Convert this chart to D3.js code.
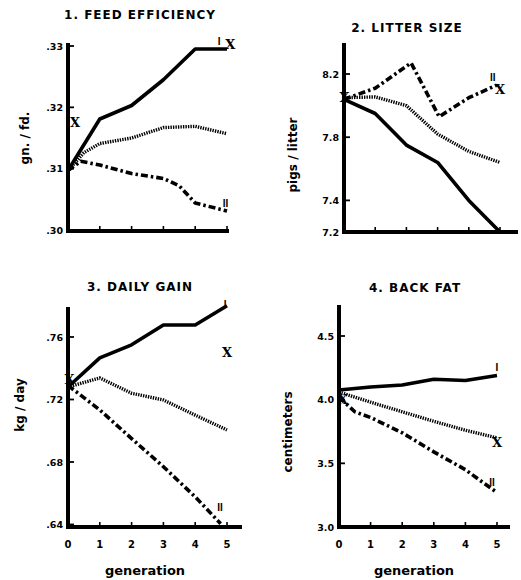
<!DOCTYPE html>
<html><head><meta charset="utf-8">
<script src="https://cdn.jsdelivr.net/npm/d3@7"></script>
<style>body{margin:0;background:#fff}</style>
</head><body><svg id="c" width="521" height="580"></svg>
<script>
// ---------- DATA ----------
const xTickValues = [0,1,2,3,4,5];
const xTickLabels = ["0","1","2","3","4","5"];

// Panel 1: Feed efficiency (gn./fd.)
const feedTicks = [0.30,0.31,0.32,0.33];
const feedTickLabels = [".30",".31",".32",".33"];
const feedSolidGen = [0,1,2,3,4,5];
const feedSolidVal = [0.3097,0.3181,0.3203,0.3245,0.3295,0.3295];
const feedDotGen = [0,0.5,1,2,3,4,5];
const feedDotVal = [0.3097,0.3126,0.3141,0.3150,0.3167,0.3169,0.3157];
const feedDashGen = [0,0.4,1,2,3,3.5,4,5];
const feedDashVal = [0.3097,0.3112,0.3106,0.3092,0.3084,0.3072,0.3044,0.3031];

// Panel 2: Litter size (pigs/litter)
const litterTicks = [7.2,7.4,7.8,8.2];
const litterTickLabels = ["7.2","7.4","7.8","8.2"];
const litterSolidGen = [0,1,2,3,4,5];
const litterSolidVal = [8.04,7.95,7.75,7.64,7.40,7.20];
const litterDotGen = [0,1,2,3,4,5];
const litterDotVal = [8.05,8.055,8.00,7.82,7.71,7.64];
const litterDashGen = [0,1,2.15,3.05,4,4.9];
const litterDashVal = [8.04,8.11,8.27,7.93,8.05,8.13];

// Panel 3: Daily gain (kg/day)
const gainTicks = [0.64,0.68,0.72,0.76];
const gainTickLabels = [".64",".68",".72",".76"];
const gainSolidGen = [0,1,2,3,4,5];
const gainSolidVal = [0.728,0.7466,0.755,0.7677,0.7677,0.780];
const gainDotGen = [0,1,2,3,4,5];
const gainDotVal = [0.728,0.7338,0.724,0.7197,0.710,0.7005];
const gainDashGen = [0,1,2,3,4,4.8];
const gainDashVal = [0.729,0.7133,0.695,0.677,0.6577,0.6405];

// Panel 4: Back fat (centimeters)
const fatTicks = [3.0,3.5,4.0,4.5];
const fatTickLabels = ["3.0","3.5","4.0","4.5"];
const fatSolidGen = [0,1,2,3,4,5];
const fatSolidVal = [4.076,4.10,4.115,4.16,4.15,4.19];
const fatDotGen = [0,1,2,3,4,5];
const fatDotVal = [4.06,3.98,3.905,3.83,3.76,3.70];
const fatDashGen = [0,0.5,1,2,3,4,5];
const fatDashVal = [4.02,3.905,3.86,3.74,3.59,3.45,3.27];

// Line labels (text, generation, value)
const feedLabelText = ["I","X","X","II"];
const feedLabelGen = [4.75,5.1,0.22,4.95];
const feedLabelVal = [0.3308,0.3303,0.3175,0.3044];
const litterLabelText = ["X","II","X"];
const litterLabelGen = [0.02,4.77,5.0];
const litterLabelVal = [8.05,8.18,8.10];
const gainLabelText = ["X","I","X","II"];
const gainLabelGen = [0.05,4.94,5.0,4.78];
const gainLabelVal = [0.733,0.781,0.7498,0.6506];
const fatLabelText = ["X","I","X","II"];
const fatLabelGen = [0.12,5.0,5.0,4.84];
const fatLabelVal = [4.0,4.25,3.66,3.35];

const titles = ["1. FEED EFFICIENCY","2. LITTER SIZE","3. DAILY GAIN","4. BACK FAT"];
const yLabels = ["gn. / fd.","pigs / litter","kg / day","centimeters"];
const xLabel = "generation";

// ---------- LAYOUT ----------
const panels = [
  {title:titles[0], tx:140, ty:15, yl:yLabels[0], ylx:25, yly:138,
   x0:68, x5:227, xEnd:229, yTopPx:43, yBotPx:231,
   yDom:[0.30,0.33], yRng:[230,46], ticks:feedTicks, tickLabels:feedTickLabels,
   series:[[feedSolidGen,feedSolidVal,"solid"],[feedDotGen,feedDotVal,"dot"],[feedDashGen,feedDashVal,"dash"]],
   labels:[feedLabelText,feedLabelGen,feedLabelVal], xLabels:false},
  {title:titles[1], tx:407, ty:28, yl:yLabels[1], ylx:293, yly:155,
   x0:344, x5:500, xEnd:518, yTopPx:43, yBotPx:232,
   yDom:[7.2,8.2], yRng:[232,74], ticks:litterTicks, tickLabels:litterTickLabels,
   series:[[litterSolidGen,litterSolidVal,"solid"],[litterDotGen,litterDotVal,"dot"],[litterDashGen,litterDashVal,"dash"]],
   labels:[litterLabelText,litterLabelGen,litterLabelVal], xLabels:false},
  {title:titles[2], tx:140, ty:287, yl:yLabels[2], ylx:20, yly:405,
   x0:68, x5:227, xEnd:242, yTopPx:307, yBotPx:527,
   yDom:[0.64,0.76], yRng:[524.5,337], ticks:gainTicks, tickLabels:gainTickLabels,
   series:[[gainSolidGen,gainSolidVal,"solid"],[gainDotGen,gainDotVal,"dot"],[gainDashGen,gainDashVal,"dash"]],
   labels:[gainLabelText,gainLabelGen,gainLabelVal], xLabels:true, glx:145},
  {title:titles[3], tx:415, ty:288, yl:yLabels[3], ylx:288, yly:432,
   x0:339, x5:497, xEnd:510, yTopPx:305, yBotPx:527,
   yDom:[3.0,4.5], yRng:[527,336], ticks:fatTicks, tickLabels:fatTickLabels,
   series:[[fatSolidGen,fatSolidVal,"solid"],[fatDotGen,fatDotVal,"dot"],[fatDashGen,fatDashVal,"dash"]],
   labels:[fatLabelText,fatLabelGen,fatLabelVal], xLabels:true, glx:414}
];

const svg = d3.select("#c");
const FONT = "'DejaVu Sans', sans-serif";
const styles = {
  solid:{w:3.6, dash:null},
  dot:{w:3.4, dash:"1.4,1.1"},
  dash:{w:3.6, dash:"7,3,2.5,3"}
};

panels.forEach(p => {
  const g = svg.append("g");
  const x = d3.scaleLinear().domain([0,5]).range([p.x0,p.x5]);
  const y = d3.scaleLinear().domain(p.yDom).range(p.yRng);

  g.append("text").attr("x",p.tx).attr("y",p.ty).attr("text-anchor","middle")
    .attr("dominant-baseline","central").attr("font-family",FONT).attr("font-weight","bold")
    .attr("font-size",12).attr("letter-spacing",1).attr("fill","#000").text(p.title);

  g.append("text").attr("transform",`translate(${p.ylx},${p.yly}) rotate(-90)`)
    .attr("text-anchor","middle").attr("dominant-baseline","central")
    .attr("font-family",FONT).attr("font-weight","bold").attr("font-size",12).attr("fill","#000").text(p.yl);

  p.ticks.forEach((t,i) => {
    g.append("line").attr("x1",p.x0).attr("x2",p.x0+6).attr("y1",y(t)).attr("y2",y(t))
      .attr("stroke","#000").attr("stroke-width",1.8);
    g.append("text").attr("x",p.x0-5).attr("y",y(t)).attr("text-anchor","end")
      .attr("dominant-baseline","central").attr("font-family",FONT).attr("font-weight","bold")
      .attr("font-size",9.5).attr("fill","#000").text(p.tickLabels[i]);
  });
  xTickValues.forEach((t,i) => {
    if (t>0) g.append("line").attr("x1",x(t)).attr("x2",x(t)).attr("y1",p.yBotPx).attr("y2",p.yBotPx-5)
      .attr("stroke","#000").attr("stroke-width",1.6);
    if (p.xLabels) g.append("text").attr("x",x(t)).attr("y",p.yBotPx+17).attr("text-anchor","middle")
      .attr("dominant-baseline","central").attr("font-family",FONT).attr("font-weight","bold")
      .attr("font-size",10).attr("fill","#000").text(xTickLabels[i]);
  });
  if (p.xLabels) g.append("text").attr("x",p.glx).attr("y",570).attr("text-anchor","middle")
      .attr("dominant-baseline","central").attr("font-family",FONT).attr("font-weight","bold")
      .attr("font-size",13).attr("fill","#000").text(xLabel);

  g.append("path").attr("d",`M${p.x0},${p.yTopPx}V${p.yBotPx}H${p.xEnd}`)
    .attr("fill","none").attr("stroke","#000").attr("stroke-width",4).attr("stroke-linejoin","miter");

  const line = d3.line().x(d=>x(d[0])).y(d=>y(d[1]));
  p.series.forEach(([gens,vals,kind]) => {
    const pts = gens.map((gv,i)=>[gv,vals[i]]);
    g.append("path").attr("d",line(pts)).attr("fill","none").attr("stroke","#000")
      .attr("stroke-width",styles[kind].w).attr("stroke-dasharray",styles[kind].dash)
      .attr("stroke-linejoin","round");
  });

  const [lt,lg,lv] = p.labels;
  lt.forEach((t,i) => {
    const isX = t==="X";
    g.append("text").attr("x",x(lg[i])).attr("y",y(lv[i])).attr("text-anchor","middle")
      .attr("dominant-baseline","central")
      .attr("font-family",isX?"'DejaVu Serif', serif":"'Liberation Sans', sans-serif")
      .attr("font-weight","bold").attr("fill","#000")
      .attr("font-size",isX?13:10).text(t);
  });
});
</script></body></html>
